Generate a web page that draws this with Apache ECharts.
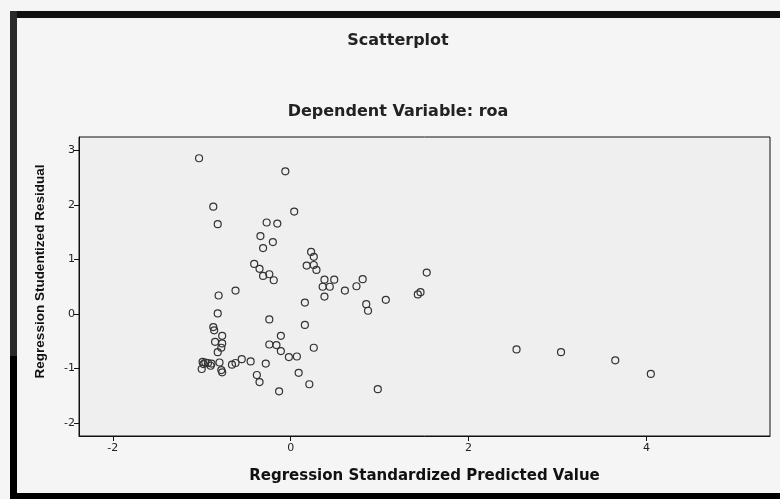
<!DOCTYPE html>
<html>
<head>
<meta charset="utf-8">
<script src="https://cdn.jsdelivr.net/npm/echarts@6/dist/echarts.min.js"></script>
<style>
html,body{margin:0;padding:0;background:#f5f5f5;}
#chart{width:780px;height:499px;}
</style>
</head>
<body>
<div id="chart"></div>
<script>
// Regression Standardized Predicted Value (x) and Studentized Residual (y)
const predicted = [
  -1.03, -0.87, -0.82, -0.06, 0.04, -0.27, -0.15, -0.34, -0.20, -0.31,
  0.23, 0.26, 0.18, 0.26, 0.29, -0.41, -0.35, -0.31, -0.24, -0.19,
  0.38, 0.49, 0.81, 1.53, 0.36, 0.44, 0.61, 0.74, 0.38, 0.16,
  0.85, 0.87, 1.07, 1.43, 1.46, -0.62, -0.81, -0.82, -0.24, 0.16,
  -0.11, -0.24, -0.16, -0.11, -0.02, 0.07, 0.26, -0.55, -0.45, -0.28,
  0.09, -0.38, -0.35, 0.21, -0.13, 0.98, -0.87, -0.86, -0.77, -0.85,
  -0.77, -0.78, -0.82, -0.99, -0.96, -0.93, -0.89, -0.80, -1.00, -0.90,
  -0.78, -0.77, -0.66, -0.62, 2.54, 3.04, 3.65, 4.05, -0.98
];
const residual = [
  2.86, 1.97, 1.65, 2.62, 1.88, 1.68, 1.66, 1.43, 1.32, 1.21,
  1.14, 1.05, 0.89, 0.90, 0.81, 0.92, 0.83, 0.70, 0.73, 0.62,
  0.63, 0.63, 0.64, 0.76, 0.50, 0.50, 0.43, 0.51, 0.32, 0.21,
  0.18, 0.06, 0.26, 0.36, 0.40, 0.43, 0.34, 0.01, -0.10, -0.20,
  -0.40, -0.56, -0.57, -0.68, -0.79, -0.78, -0.62, -0.83, -0.87, -0.91,
  -1.08, -1.12, -1.25, -1.29, -1.42, -1.38, -0.24, -0.30, -0.40, -0.51,
  -0.54, -0.62, -0.70, -0.88, -0.89, -0.90, -0.91, -0.89, -1.01, -0.95,
  -1.03, -1.07, -0.93, -0.90, -0.65, -0.70, -0.85, -1.10, -0.92
];
const xTicks = [-2, 0, 2, 4];
const yTicks = [-2, -1, 0, 1, 2, 3];
const chartTitle = 'Scatterplot';
const chartSubtitle = 'Dependent Variable: roa';
const xName = 'Regression Standardized Predicted Value';
const yName = 'Regression Studentized Residual';

const points = predicted.map((x, i) => [x, residual[i]]);

const chart = echarts.init(document.getElementById('chart'), null, {renderer: 'canvas'});
const labelStyle = {color: '#222', fontSize: 11, fontFamily: 'DejaVu Sans'};
chart.setOption({
  backgroundColor: '#f5f5f5',
  animation: false,
  title: [
    {text: chartTitle, left: 393, top: 28, textAlign: 'center',
     textStyle: {fontFamily: 'DejaVu Sans', fontWeight: 'bold', fontSize: 16, color: '#222'}},
    {text: chartSubtitle, left: 393, top: 99, textAlign: 'center',
     textStyle: {fontFamily: 'DejaVu Sans', fontWeight: 'bold', fontSize: 16, color: '#222'}}
  ],
  grid: {left: 79, right: 10, top: 137, bottom: 63, show: true, backgroundColor: '#efefef',
         borderColor: '#111', borderWidth: 1},
  xAxis: {
    type: 'value', min: -2.38, max: 5.39,
    name: xName, nameLocation: 'middle', nameGap: 33,
    nameTextStyle: {fontFamily: 'DejaVu Sans', fontWeight: 'bold', fontSize: 15, color: '#111'},
    axisLine: {show: true, onZero: false, lineStyle: {color: '#111', width: 1}},
    axisTick: {show: true, length: 5, customValues: xTicks, lineStyle: {color: '#111'}},
    axisLabel: {customValues: xTicks, margin: 7, ...labelStyle},
    splitLine: {show: false}
  },
  yAxis: {
    type: 'value', min: -2.24, max: 3.25,
    name: yName, nameLocation: 'middle', nameGap: 32, nameRotate: 90,
    nameTextStyle: {fontFamily: 'Liberation Sans', fontWeight: 'bold', fontSize: 13.5, color: '#111',
                    padding: [0, 0, 0, 30]},
    axisLine: {show: true, onZero: false, lineStyle: {color: '#111', width: 1}},
    axisTick: {show: true, length: 5, customValues: yTicks, lineStyle: {color: '#111'}},
    axisLabel: {customValues: yTicks, margin: 4, ...labelStyle},
    splitLine: {show: false}
  },
  series: [{
    type: 'scatter',
    data: points,
    symbol: 'circle',
    symbolSize: 7,
    itemStyle: {color: 'rgba(0,0,0,0)', borderColor: '#333', borderWidth: 1.2, opacity: 1}
  }],
  graphic: [
    {type: 'rect', shape: {x: 10, y: 11, width: 770, height: 7}, style: {fill: '#111'}, z: 100},
    {type: 'rect', shape: {x: 10, y: 11, width: 7, height: 345}, style: {fill: '#2a2a2a'}, z: 100},
    {type: 'rect', shape: {x: 10, y: 356, width: 7, height: 143}, style: {fill: '#000'}, z: 100},
    {type: 'rect', shape: {x: 10, y: 493, width: 770, height: 6}, style: {fill: '#000'}, z: 100}
  ]
});
</script>
</body>
</html>
